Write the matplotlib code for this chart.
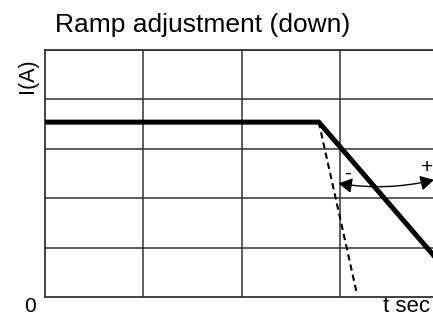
import matplotlib.pyplot as plt
from matplotlib.patches import FancyArrowPatch

plt.rcParams['font.family'] = ['Liberation Sans', 'DejaVu Sans']

# ramp curves (t in grid units, I in grid units)
t_ramp = [0, 2.78, 4.31]
i_ramp = [3.54, 3.54, 0.0]
t_fast = [2.78, 3.17]
i_fast = [3.54, 0.04]

x_grid = [0, 1, 2, 3]
y_grid = [0, 1, 2, 3, 4, 5]

fig = plt.figure(figsize=(4.33, 3.18), dpi=100)
ax = fig.add_axes([45 / 433, 21 / 318, 388 / 433, 247 / 318])
ax.set_xlim(0, 3.94)
ax.set_ylim(0, 5)

for x in x_grid[1:]:
    ax.axvline(x, color='#333333', lw=1.1, zorder=1)
for y in y_grid[1:]:
    ax.axhline(y, color='#333333', lw=1.1, zorder=1)

ax.set_xticks([])
ax.set_yticks([])
ax.spines['right'].set_visible(False)
for s in ['left', 'bottom', 'top']:
    ax.spines[s].set_color('#333333')
    ax.spines[s].set_linewidth(1.3)

ax.plot(t_ramp, i_ramp, color='black', lw=3.6, solid_joinstyle='miter', zorder=3)
ax.plot(t_fast, i_fast, color='black', lw=1.5, ls=(0, (3, 2)), zorder=3)

arr = FancyArrowPatch((2.98, 2.3), (3.95, 2.37),
                      arrowstyle='<|-|>,head_length=0.45,head_width=0.25', mutation_scale=18,
                      connectionstyle='arc3,rad=0.1', color='black', lw=1.0, zorder=4,
                      shrinkA=0, shrinkB=0)
ax.add_patch(arr)
ax.text(3.07, 2.5, '-', fontsize=15, ha='center', va='center')
ax.text(3.88, 2.63, '+', fontsize=15, ha='center', va='center')

fig.text(55 / 433, 1 - 25 / 318, 'Ramp adjustment (down)', fontsize=19, ha='left', va='center')
fig.text(27 / 433, 1 - 76 / 318, 'I(A)', fontsize=15.5, rotation=90, ha='center', va='center')
fig.text(30 / 433, 1 - 307 / 318, '0', fontsize=15, ha='center', va='center')
fig.text(430 / 433, 1 / 318, 't sec', fontsize=16, ha='right', va='bottom')

fig.savefig('out.png', dpi=100)
